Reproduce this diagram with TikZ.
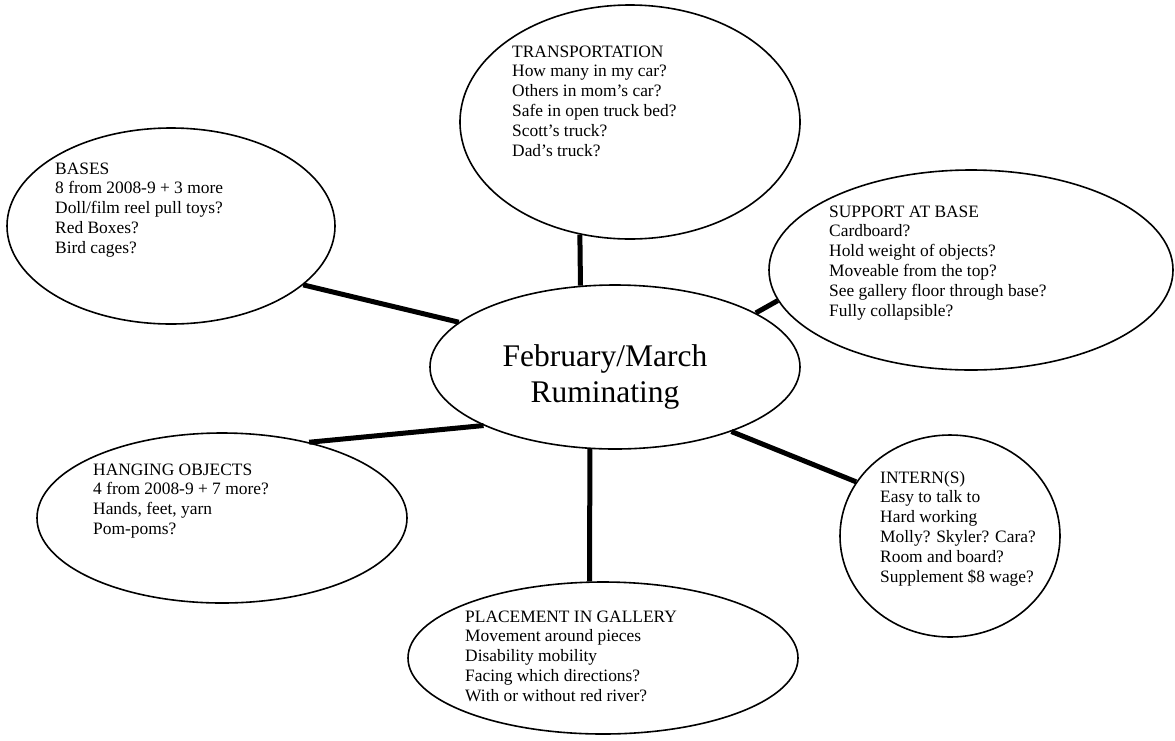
\documentclass[tikz,border=0pt]{standalone}
\usepackage{fontspec}
\setmainfont{Liberation Serif}
\usetikzlibrary{shapes.geometric}

\begin{document}
\begin{tikzpicture}[x=1pt,y=-1pt]
\useasboundingbox (0,0) rectangle (1175,740);
\begin{scope}[every node/.style={ellipse,draw,line width=1.6pt,inner sep=0pt}]
\node[minimum width=370pt,minimum height=164pt] (R) at (615,367) {};
\node[minimum width=340pt,minimum height=234pt] (T) at (630,122) {};
\node[minimum width=328pt,minimum height=196pt] (B) at (171,226) {};
\node[minimum width=404pt,minimum height=200pt] (S) at (971,270) {};
\node[minimum width=370pt,minimum height=170pt] (H) at (222,518) {};
\node[minimum width=220pt,minimum height=202pt] (I) at (950,536) {};
\node[minimum width=390pt,minimum height=152pt] (P) at (603,658) {};
\end{scope}
\begin{scope}[every node/.style={anchor=north west,inner sep=0pt,align=left,font=\fontsize{17.4}{19.8}\selectfont}]
\node (Tt) at (512,43.1) {\strut TRANSPORTATION\\How many in my car?\\Others in mom’s car?\\Safe in open truck bed?\\Scott’s truck?\\Dad’s truck?};
\node (Bt) at (55,160.1) {\strut BASES\\8 from 2008-9 + 3 more\\Doll/film reel pull toys?\\Red Boxes?\\Bird cages?};
\node (St) at (829,203.1) {\strut SUPPORT AT BASE\\Cardboard?\\Hold weight of objects?\\Moveable from the top?\\See gallery floor through base?\\Fully collapsible?};
\node (Ht) at (93,461.1) {\strut HANGING OBJECTS\\4 from 2008-9 + 7 more?\\Hands, feet, yarn\\Pom-poms?};
\node (It) at (880,469.1) {\strut INTERN(S)\\Easy to talk to\\Hard working\\Molly? Skyler? Cara?\\Room and board?\\Supplement \$8 wage?};
\node (Pt) at (465,608.1) {\strut PLACEMENT IN GALLERY\\Movement around pieces\\Disability mobility\\Facing which directions?\\With or without red river?};
\end{scope}
\node[anchor=north,inner sep=0pt,align=center,font=\fontsize{31.5}{36}\selectfont] (Rt) at (605,341) {\strut February/March\\Ruminating};
\draw [line width=5pt] (R.113.6) edge (T.-114);
\draw [line width=5pt] (R.164.8) edge (B.-24.3);
\draw [line width=5pt] (R.21.1) edge (S.189.6);
\draw [line width=5pt] (R.204.7) edge (H.41.5);
\draw [line width=5pt] (R.-107.6) edge (P.100.4);
\draw [line width=5pt] (R.-29.9) edge (I.150);
\end{tikzpicture}
\end{document}
